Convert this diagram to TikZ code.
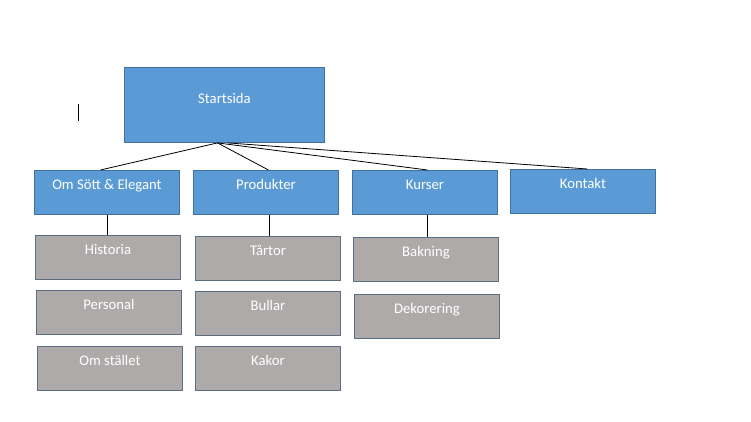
\documentclass[tikz,border=0pt]{standalone}
\usepackage{fontspec}
\setmainfont{Carlito}
\usetikzlibrary{positioning}
\definecolor{boxblue}{HTML}{5B9BD5}
\definecolor{edgeblue}{HTML}{41719C}
\definecolor{boxgrey}{HTML}{AEAAAA}
\definecolor{edgegrey}{HTML}{5A6E84}
\tikzset{
  topbox/.style={draw=edgeblue, fill=boxblue, text=white, anchor=north west, line width=0.9pt,
    minimum width=200pt, minimum height=75pt, inner xsep=0pt, inner ysep=9pt,
    text height=27pt, text depth=30pt},
  mainbox/.style={draw=edgeblue, fill=boxblue, text=white, anchor=north west, line width=0.9pt,
    minimum width=145pt, minimum height=44pt, inner xsep=0pt, inner ysep=9pt,
    text height=10pt, text depth=16pt},
  subbox/.style={mainbox, draw=edgegrey, fill=boxgrey},
  link/.style={black, line width=0.8pt}
}

\begin{document}
\begin{tikzpicture}[x=1pt, y=-1pt, font=\fontsize{14.7}{17}\selectfont]
    \useasboundingbox (0,0) rectangle (751,422);

    \node(start)[topbox] at (124,67) {Startsida};

    \node(om)[mainbox] at (34,170) {Om Sött \& Elegant};
    \node(produkter)[mainbox] at (193,170) {Produkter};
    \node(kurser)[mainbox] at (352,170) {Kurser};
    \node(kontakt)[mainbox] at (510,169) {Kontakt};

    \node(historia)[subbox] at (35,235) {Historia};
    \node(personal)[subbox] at (36,290) {Personal};
    \node(stallet)[subbox] at (37,346) {Om stället};

    \node(tartor)[subbox] at (195,236) {Tårtor};
    \node(bullar)[subbox] at (195,291) {Bullar};
    \node(kakor)[subbox] at (195,346) {Kakor};

    \node(bakning)[subbox] at (353,237) {Bakning};
    \node(dekor)[subbox] at (354,294) {Dekorering};

    \draw[link] ([xshift=-7pt]start.south) -- ([xshift=-6.5pt]om.north);
    \draw[link] ([xshift=-7pt]start.south) -- ([xshift=2.5pt]produkter.north);
    \draw[link] ([xshift=-7pt]start.south) -- ([xshift=2.5pt]kurser.north);
    \draw[link] ([xshift=3pt]start.south) -- ([xshift=4.5pt]kontakt.north);

    \draw[link] ([xshift=0.5pt]om.south) -- ([xshift=0.5pt]om.south |- historia.north);
    \draw[link] ([xshift=3.5pt]produkter.south) -- ([xshift=3.5pt]produkter.south |- tartor.north);
    \draw[link] ([xshift=2.5pt]kurser.south) -- ([xshift=2.5pt]kurser.south |- bakning.north);

    \coordinate(cursortop) at (78,104);
    \coordinate(cursorbot) at (78,121);
    \draw[black, line width=1pt] (cursortop) -- (cursorbot);
\end{tikzpicture}
\end{document}
